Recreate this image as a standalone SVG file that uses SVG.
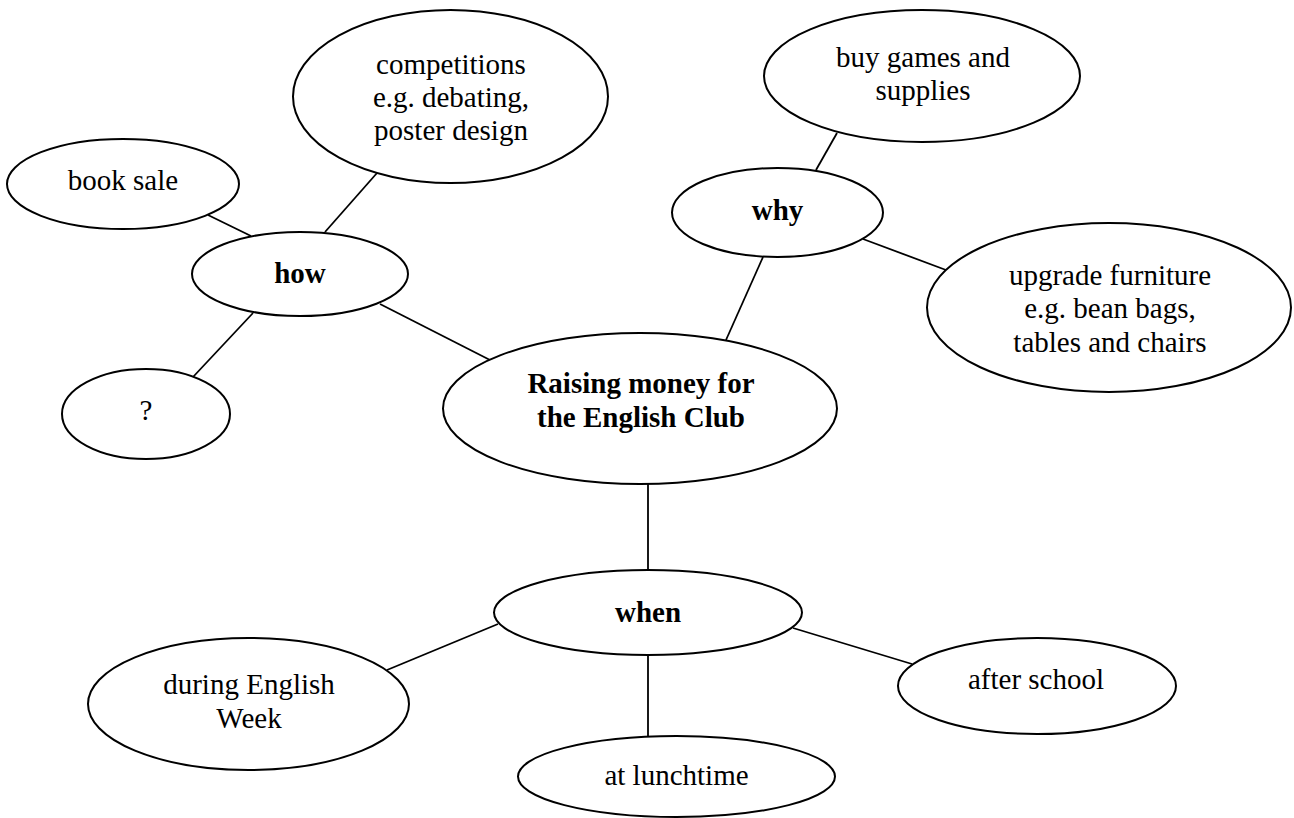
<svg xmlns="http://www.w3.org/2000/svg" width="1294" height="818" viewBox="0 0 1294 818">
<style>
.n{fill:#fff;stroke:#000;stroke-width:2}
.c line{stroke:#000;stroke-width:1.8}
text{font-family:"Liberation Serif","Times New Roman",serif;font-size:29px;fill:#000;text-anchor:middle}
.b{font-weight:bold}
</style>
<rect width="1294" height="818" fill="#fff"/>
<g class="c" id="connectors">
<line x1="208" y1="215" x2="251" y2="236"/>
<line x1="377" y1="173" x2="325" y2="232"/>
<line x1="253" y1="313" x2="193" y2="377"/>
<line x1="380" y1="304" x2="490" y2="360"/>
<line x1="837" y1="133" x2="816" y2="170"/>
<line x1="763" y1="257" x2="726" y2="340"/>
<line x1="863" y1="239" x2="946" y2="270"/>
<line x1="648" y1="484" x2="648" y2="570"/>
<line x1="387" y1="670" x2="498" y2="624"/>
<line x1="648" y1="655" x2="648" y2="736"/>
<line x1="793" y1="628" x2="912" y2="664"/>
</g>
<g id="n-center"><ellipse class="n" cx="640" cy="408.5" rx="197" ry="75.5"/><text class="b" x="641" y="393">Raising money for</text><text class="b" x="641" y="427">the English Club</text></g>
<g id="n-how"><ellipse class="n" cx="300" cy="274" rx="108" ry="42"/><text class="b" x="300" y="283">how</text></g>
<g id="n-booksale"><ellipse class="n" cx="123" cy="184" rx="116" ry="45"/><text x="123" y="190">book sale</text></g>
<g id="n-competitions"><ellipse class="n" cx="450.5" cy="96.5" rx="157.5" ry="86.5"/><text x="451" y="74">competitions</text><text x="451" y="107">e.g. debating,</text><text x="451" y="140">poster design</text></g>
<g id="n-question"><ellipse class="n" cx="146" cy="414" rx="84" ry="45"/><text x="146" y="420">?</text></g>
<g id="n-why"><ellipse class="n" cx="777.5" cy="212.5" rx="105.5" ry="44.5"/><text class="b" x="777.5" y="220">why</text></g>
<g id="n-buygames"><ellipse class="n" cx="922" cy="76" rx="158" ry="66"/><text x="923" y="67">buy games and</text><text x="923" y="100">supplies</text></g>
<g id="n-upgrade"><ellipse class="n" cx="1109" cy="307.5" rx="182" ry="84.5"/><text x="1110" y="285">upgrade furniture</text><text x="1110" y="318">e.g. bean bags,</text><text x="1110" y="352">tables and chairs</text></g>
<g id="n-when"><ellipse class="n" cx="648" cy="612.5" rx="154" ry="42.5"/><text class="b" x="648" y="622">when</text></g>
<g id="n-during"><ellipse class="n" cx="248.5" cy="704" rx="160.5" ry="66"/><text x="249" y="694">during English</text><text x="249" y="728">Week</text></g>
<g id="n-lunch"><ellipse class="n" cx="676.5" cy="776.5" rx="158.5" ry="40.5"/><text x="676.5" y="785">at lunchtime</text></g>
<g id="n-after"><ellipse class="n" cx="1037" cy="686" rx="139" ry="48"/><text x="1036" y="689">after school</text></g>
</svg>
